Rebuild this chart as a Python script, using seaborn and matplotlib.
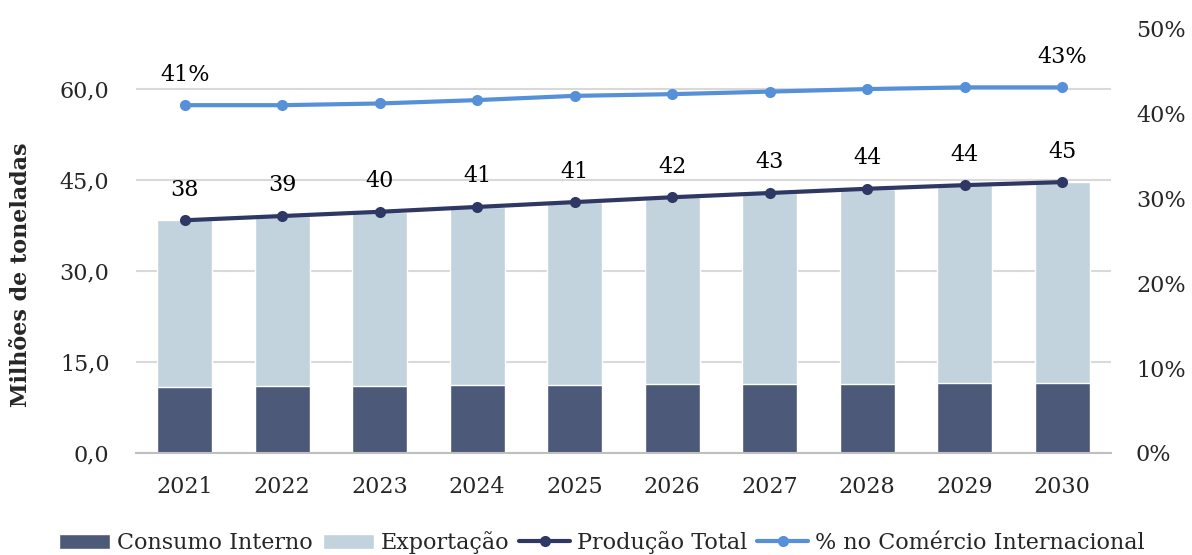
import numpy as np
import matplotlib
matplotlib.use("Agg")
import matplotlib.pyplot as plt
import seaborn as sns
from matplotlib.lines import Line2D
from matplotlib.patches import Patch

# Dados (milhões de toneladas e % no comércio internacional)
anos = ["2021", "2022", "2023", "2024", "2025", "2026", "2027", "2028", "2029", "2030"]
consumo_interno = [10.9, 11.0, 11.1, 11.2, 11.2, 11.3, 11.4, 11.45, 11.55, 11.55]
exportacao = [27.5, 28.1, 28.7, 29.4, 30.2, 30.9, 31.5, 32.15, 32.65, 33.15]
pct_comercio = [41.0, 41.0, 41.2, 41.6, 42.1, 42.3, 42.6, 42.9, 43.1, 43.1]
anos_rotulo_pct = ["2021", "2030"]
ticks_esq = [0, 15, 30, 45, 60]
ticks_dir = [0, 10, 20, 30, 40, 50]

producao_total = [c + e for c, e in zip(consumo_interno, exportacao)]

cor_consumo = "#4c5978"
cor_export = "#c2d3de"
cor_producao = "#2f3864"
cor_pct = "#5590d8"
cor_grade = "#d9d9d9"
cor_eixo = "#bfbfbf"
fs = 16

sns.set_theme(style="white")
plt.rcParams["font.family"] = ["DejaVu Serif"]
plt.rcParams["font.size"] = fs

fig = plt.figure(figsize=(11.92, 5.55), dpi=100)
ax = fig.add_axes([0.114, 0.184, 0.818, 0.764])

pos = np.arange(len(anos))

# Barras empilhadas: total (exportação visível acima) e consumo interno por cima
sns.barplot(x=anos, y=producao_total, color=cor_export, width=0.565,
            saturation=1, ax=ax)
sns.barplot(x=anos, y=consumo_interno, color=cor_consumo, width=0.565,
            saturation=1, ax=ax)

# Linha de produção total
sns.lineplot(x=pos, y=producao_total, ax=ax, color=cor_producao, lw=3,
             marker="o", markersize=8, markeredgewidth=0, zorder=4)
for i, v in enumerate(producao_total):
    ax.annotate(f"{v:.0f}", (i, v), xytext=(0, 22), textcoords="offset points",
                ha="center", va="center", fontsize=fs, color="black")

ax.set_xlim(-0.5, len(anos) - 0.5)
ax.set_ylim(0, 70)
ax.set_yticks(ticks_esq)
ax.set_yticklabels([f"{t:.1f}".replace(".", ",") for t in ticks_esq])
ax.yaxis.grid(True, color=cor_grade, lw=1.5)
ax.set_axisbelow(True)
for s in ["left", "right", "top"]:
    ax.spines[s].set_visible(False)
ax.spines["bottom"].set_color(cor_eixo)
ax.spines["bottom"].set_linewidth(1.5)
ax.set_xticks(pos)
ax.set_xticklabels(anos)
ax.set_xticks(np.arange(-0.5, len(anos), 1), minor=True)
ax.tick_params(axis="x", which="major", length=0, pad=17, labelsize=fs)
ax.tick_params(axis="x", which="minor", length=8, width=1.5, color=cor_eixo,
               direction="out")
ax.tick_params(axis="y", length=0, pad=19, labelsize=fs)
ax.set_xlabel("")
ax.set_ylabel("Milhões de toneladas", fontweight="bold", fontsize=fs)
ax.yaxis.set_label_coords(-0.107, 0.421)

# Eixo secundário: % no comércio internacional
ax2 = ax.twinx()
sns.lineplot(x=pos, y=pct_comercio, ax=ax2, color=cor_pct, lw=3,
             marker="o", markersize=8, markeredgewidth=0)
for i, (ano, v) in enumerate(zip(anos, pct_comercio)):
    if ano in anos_rotulo_pct:
        ax2.annotate(f"{v:.0f}%", (i, v), xytext=(0, 22),
                     textcoords="offset points", ha="center", va="center",
                     fontsize=fs, color="black")
ax2.set_ylim(0, 50)
ax2.set_yticks(ticks_dir)
ax2.set_yticklabels([f"{t}%" for t in ticks_dir])
ax2.tick_params(axis="y", length=0, pad=18, labelsize=fs)
for s in ax2.spines.values():
    s.set_visible(False)
ax2.set_xlim(-0.5, len(anos) - 0.5)

handles = [
    Patch(facecolor=cor_consumo, label="Consumo Interno"),
    Patch(facecolor=cor_export, label="Exportação"),
    Line2D([], [], color=cor_producao, lw=3, marker="o", markersize=8,
           markeredgewidth=0, label="Produção Total"),
    Line2D([], [], color=cor_pct, lw=3, marker="o", markersize=8,
           markeredgewidth=0, label="% no Comércio Internacional"),
]
fig.legend(handles=handles, loc="center", bbox_to_anchor=(0.505, 0.022),
           ncol=4, frameon=False, handlelength=2.3, handletextpad=0.3,
           columnspacing=0.45, fontsize=fs)

fig.savefig("out.png", dpi=100)
